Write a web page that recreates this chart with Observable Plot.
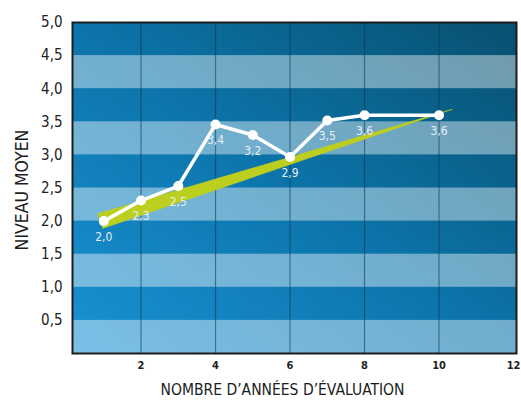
<!DOCTYPE html>
<html>
<head>
<meta charset="utf-8">
<script src="https://cdn.jsdelivr.net/npm/d3@7"></script>
<script src="https://cdn.jsdelivr.net/npm/@observablehq/plot@0.6"></script>
<style>
  html, body { margin: 0; padding: 0; background: #ffffff; }
  #chart svg { display: block; }
  g[aria-label^="x-axis"] text { font-size: 11px; font-weight: bold; fill: #222; }
  g[aria-label^="y-axis"] text { font-size: 15px; fill: #222; }
</style>
</head>
<body>
<div id="chart"></div>
<script>
// Data
const years = [1, 2, 3, 4, 5, 6, 7, 8, 10];
const levels = [2.0, 2.31, 2.53, 3.46, 3.3, 2.97, 3.52, 3.6, 3.6];
const levelLabels = ["2,0", "2,3", "2,5", "3,4", "3,2", "2,9", "3,5", "3,6", "3,6"];
const xTicks = [2, 4, 6, 8, 10, 12];
const yTicks = [0.5, 1, 1.5, 2, 2.5, 3, 3.5, 4, 4.5, 5];
const lightBandStarts = [0, 1, 2, 3, 4];
const wedgeX = [0.83, 10.36, 0.97];
const wedgeY = [2.11, 3.69, 1.89];
const xTitle = "NOMBRE D\u2019ANN\u00C9ES D\u2019\u00C9VALUATION";
const yTitle = "NIVEAU MOYEN";

const points = years.map((x, i) => ({x, y: levels[i], label: levelLabels[i]}));
const wedge = wedgeX.map((x, i) => ({x, y: wedgeY[i]}));

const FONT = '"Liberation Sans Narrow", "DejaVu Sans Condensed", "Arial Narrow", sans-serif';
const NS = "http://www.w3.org/2000/svg";

function defsMark() {
  const defs = document.createElementNS(NS, "defs");
  const grad = document.createElementNS(NS, "linearGradient");
  grad.setAttribute("id", "bgGrad");
  grad.setAttribute("x1", "0"); grad.setAttribute("y1", "1");
  grad.setAttribute("x2", "1"); grad.setAttribute("y2", "0");
  [["0%", "#1a92d4"], ["50%", "#0c74aa"], ["100%", "#08506f"]].forEach(([o, c]) => {
    const s = document.createElementNS(NS, "stop");
    s.setAttribute("offset", o); s.setAttribute("stop-color", c);
    grad.appendChild(s);
  });
  defs.appendChild(grad);
  return defs;
}

const chart = Plot.plot({
  width: 521,
  height: 405,
  marginTop: 22,
  marginBottom: 52,
  marginLeft: 72,
  marginRight: 5,
  style: {fontFamily: FONT, background: "#ffffff", overflow: "visible"},
  x: {domain: [0.16, 12.08], ticks: xTicks, tickSize: 0, tickPadding: 8, label: null},
  y: {domain: [0, 5], ticks: yTicks, tickSize: 0, tickPadding: 10, label: null,
      tickFormat: d => d.toFixed(1).replace(".", ",")},
  marks: [
    defsMark,
    Plot.frame({fill: "url(#bgGrad)", stroke: "none"}),
    Plot.rect(lightBandStarts, {y1: d => d, y2: d => d + 0.5, fill: "#ffffff", fillOpacity: 0.42}),
    Plot.ruleX(xTicks.filter(d => d < 12), {stroke: "#0b3550", strokeOpacity: 0.55, strokeWidth: 1.2}),
    Plot.line(wedge, {x: "x", y: "y", fill: "#bccf1f", stroke: "#bccf1f", strokeWidth: 0.5}),
    Plot.line(points, {x: "x", y: "y", stroke: "#ffffff", strokeWidth: 3.5}),
    Plot.dot(points, {x: "x", y: "y", r: 5, fill: "#ffffff", stroke: "none"}),
    Plot.text(points, {x: "x", y: "y", text: "label", dy: 16, fill: "#e6eff5", fontSize: 12, fontFamily: FONT}),
    Plot.frame({stroke: "#1c1c1c", strokeWidth: 2}),
    Plot.text([xTitle], {text: d => d, frameAnchor: "bottom", textAnchor: "middle", dx: -12, dy: 41, fontSize: 15.5, fill: "#1c1c1c", fontFamily: FONT}),
    Plot.text([yTitle], {text: d => d, frameAnchor: "left", textAnchor: "middle", rotate: -90, dx: -50, dy: 2, fontSize: 17.5, fill: "#1c1c1c", fontFamily: FONT})
  ]
});
document.getElementById("chart").appendChild(chart);
</script>
</body>
</html>
